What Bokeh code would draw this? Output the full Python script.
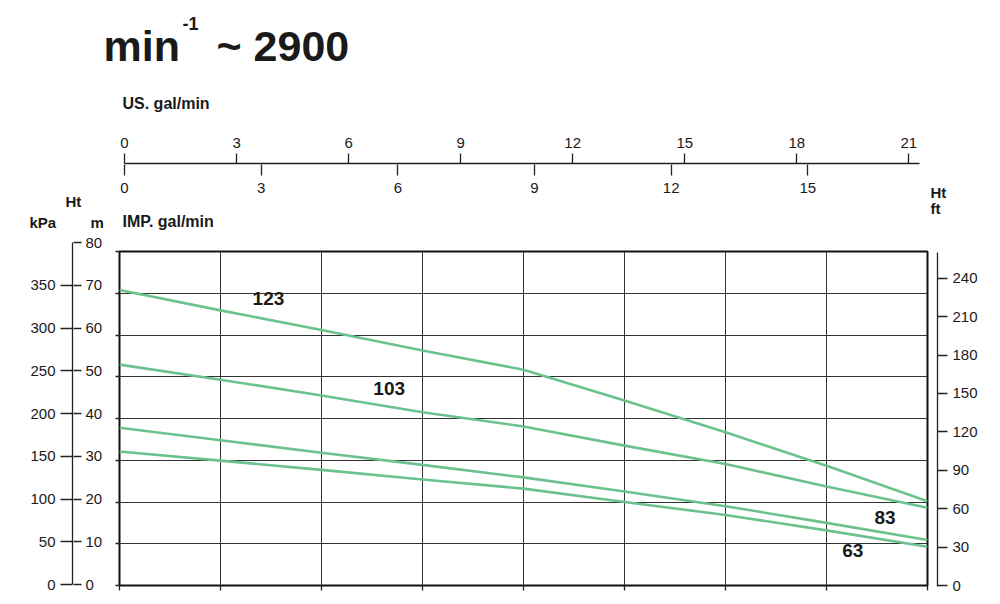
from bokeh.plotting import figure
from bokeh.models import Range1d, LinearAxis, FixedTicker, Label, CustomJSTickFormatter
from bokeh.layouts import column, row
from bokeh.embed import file_html
from bokeh.resources import INLINE
from bokeh.core.properties import value

# ---------------- data ----------------
Q_LPM = [0, 10, 20, 30, 40, 50, 60, 70, 80]
H_123 = [70.8, 65.9, 61.2, 56.3, 51.7, 44.3, 36.7, 28.7, 20.2]
H_103 = [52.9, 49.3, 45.5, 41.5, 38.1, 33.5, 29.1, 23.7, 18.6]
H_83 = [37.8, 34.8, 31.8, 28.9, 25.9, 22.5, 19.0, 15.0, 10.9]
H_63 = [32.1, 29.9, 27.7, 25.4, 23.2, 20.0, 16.9, 13.2, 9.3]
CURVE_NAMES = ["123", "103", "83", "63"]

US_TICKS = [0, 3, 6, 9, 12, 15, 18, 21]
IMP_TICKS = [0, 3, 6, 9, 12, 15]
KPA_TICKS = [0, 50, 100, 150, 200, 250, 300, 350]
M_TICKS = [0, 10, 20, 30, 40, 50, 60, 70, 80]
FT_TICKS = [0, 30, 60, 90, 120, 150, 180, 210, 240]
GRID_X = [0, 10, 20, 30, 40, 50, 60, 70, 80]
GRID_Y = [0, 10, 20, 30, 40, 50, 60, 70, 80]

FONT = "Liberation Sans"
TXT = "#1a1a1a"
AX = "#222222"
GREEN = "#6cc28c"

COMMON = dict(output_backend="svg", toolbar_location=None, frame_align=False)


def style_axis(ax, ticks, tick_out, standoff, font_size="15px", line=True):
    ax.ticker = FixedTicker(ticks=ticks)
    ax.major_tick_out = tick_out
    ax.major_tick_in = 0
    ax.minor_tick_line_color = None
    ax.major_tick_line_color = AX
    ax.major_tick_line_width = 1.3
    ax.axis_line_color = AX if line else None
    ax.axis_line_width = 1.3
    ax.major_label_standoff = standoff
    ax.major_label_text_font = FONT
    ax.major_label_text_font_size = font_size
    ax.major_label_text_color = TXT


def text_fig(x0, y0, w, h):
    # a blank panel whose data coordinates equal page pixels, used only for texts
    p = figure(width=w, height=h, x_range=Range1d(x0, x0 + w), y_range=Range1d(y0 + h, y0),
               x_axis_type=None, y_axis_type=None, min_border=0, min_border_left=0,
               min_border_right=0, min_border_top=0, min_border_bottom=0,
               outline_line_color=None, **COMMON)
    return p


def add_label(p, x, baseline, text, size, bold=True):
    # the renderer sits the text about 0.39 em low for an "alphabetic" anchor
    p.add_layout(Label(x=x, y=baseline - 0.39 * size, text=text, text_font=FONT,
                       text_font_size=f"{size}px",
                       text_font_style="bold" if bold else "normal",
                       text_color=TXT, text_baseline="alphabetic", text_align="left"))


# ---------------- title strip ----------------
top_text = text_fig(0, 0, 1000, 120)
add_label(top_text, 103, 62, "min", 43)
add_label(top_text, 182, 30, "-1", 18)
add_label(top_text, 216, 62, "~ 2900", 43)
add_label(top_text, 122, 109, "US. gal/min", 16)

# ---------------- flow axes strip ----------------
flow = figure(width=820, height=85, x_range=Range1d(0, 21.285), y_range=Range1d(0, 1),
              x_axis_type=None, y_axis_type=None,
              min_border_left=14, min_border_right=11, min_border_top=43, min_border_bottom=41,
              outline_line_color=None, **COMMON)
flow.extra_x_ranges = {"imp": Range1d(0, 17.45)}
us_ax = LinearAxis()
style_axis(us_ax, US_TICKS, 10, 6, "15px")
flow.add_layout(us_ax, "above")
imp_ax = LinearAxis(x_range_name="imp")
style_axis(imp_ax, IMP_TICKS, 11, 7, "15px", line=False)
flow.add_layout(imp_ax, "below")

mid_text = text_fig(110, 205, 820, 27)
add_label(mid_text, 122, 227, "IMP. gal/min", 16)

# ---------------- left: kPa / m axes ----------------
left_text = text_fig(0, 120, 110, 112)
add_label(left_text, 65, 207, "Ht", 15)
add_label(left_text, 29, 228, "kPa", 15)
add_label(left_text, 90, 228, "m", 15)

left = figure(width=110, height=372, x_range=Range1d(0, 1), y_range=Range1d(0, 80),
              x_axis_type=None, y_axis_type=None,
              min_border_left=72, min_border_right=37, min_border_top=10, min_border_bottom=20,
              outline_line_color=None, **COMMON)
left.extra_y_ranges = {"kpa": Range1d(0, 400)}
kpa_ax = LinearAxis(y_range_name="kpa")
style_axis(kpa_ax, KPA_TICKS, 12, 5, "15px")
left.add_layout(kpa_ax, "left")
m_ax = LinearAxis()
style_axis(m_ax, M_TICKS, 8, 4, "15px", line=False)
left.add_layout(m_ax, "right")

# ---------------- main plot ----------------
main = figure(width=820, height=372, x_range=Range1d(0, 80), y_range=Range1d(0, 80),
              min_border_left=9, min_border_right=3, min_border_top=19, min_border_bottom=19,
              **COMMON)
main.outline_line_color = "#111111"
main.outline_line_width = 2
main.xgrid.ticker = FixedTicker(ticks=GRID_X)
main.ygrid.ticker = FixedTicker(ticks=GRID_Y)
main.grid.grid_line_color = "#333333"
main.grid.grid_line_width = 1
main.grid.grid_line_alpha = 1
for ax, out, ticks in ((main.xaxis[0], 5, GRID_X), (main.yaxis[0], 4, GRID_Y)):
    style_axis(ax, ticks, out, 0, "10px", line=False)
    ax.formatter = CustomJSTickFormatter(code="return ''")

for h in (H_123, H_103, H_83, H_63):
    main.line(Q_LPM, h, line_color=GREEN, line_width=2.6)

LBL_X = [14.75, 26.7, 75.8, 72.6]
LBL_Y = [68.7, 47.2, 16.3, 8.5]
main.text(x=LBL_X, y=LBL_Y, text=CURVE_NAMES, text_font=value(FONT),
          text_font_size=value("19px"), text_font_style="bold", text_color=TXT,
          text_align="center", text_baseline="middle")

# ---------------- right: ft axis ----------------
right_text = text_fig(930, 120, 70, 112)
add_label(right_text, 930, 198, "Ht", 15)
add_label(right_text, 930, 214, "ft", 15)

right = figure(width=70, height=372, x_range=Range1d(0, 1), y_range=Range1d(-0.78, 260.07),
               x_axis_type=None, y_axis_type=None,
               min_border_left=6, min_border_right=63, min_border_top=20, min_border_bottom=18,
               outline_line_color=None, **COMMON)
ft_ax = LinearAxis()
style_axis(ft_ax, FT_TICKS, 10, 5, "15px")
right.add_layout(ft_ax, "right")

layout = column(
    top_text,
    row(column(left_text, left), column(flow, mid_text, main), column(right_text, right)),
)
open("out.html", "w").write(file_html(layout, INLINE))
